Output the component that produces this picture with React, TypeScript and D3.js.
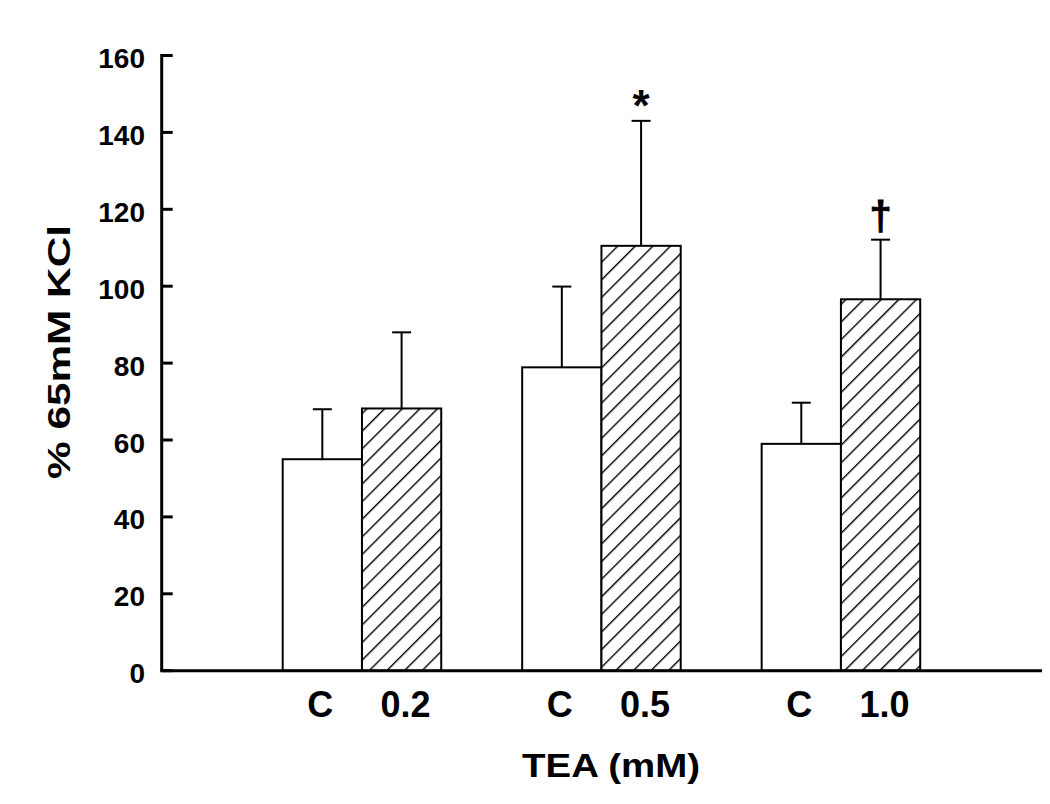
import React from "react";
import * as d3 from "d3";

const groups = ["0.2", "0.5", "1.0"];
const seriesKeys = ["C", "TEA"];
const controlMeans = [55.0, 78.9, 59.0];
const controlErr = [13.0, 21.0, 10.7];
const teaMeans = [68.2, 110.5, 96.6];
const teaErr = [19.8, 32.5, 15.5];
const annotations = ["", "*", "†"];
const yTicks = [0, 20, 40, 60, 80, 100, 120, 140, 160];
const xTitle = "TEA (mM)";
const yTitle = "% 65mM KCl";

const W = 1050;
const H = 804;
const FONT = "'Liberation Sans', Arial, Helvetica, sans-serif";

export default function App() {
  const y = d3.scaleLinear().domain([0, 160]).range([670.7, 55.5]);
  const x0 = d3
    .scaleBand<string>()
    .domain(groups)
    .range([282.7, 920.2])
    .paddingInner(0.338)
    .paddingOuter(0);
  const x1 = d3
    .scaleBand<string>()
    .domain(seriesKeys)
    .range([0, x0.bandwidth()])
    .padding(0);

  const axisX = 161.7;
  const axisY = y(0);
  const bw = x1.bandwidth();
  const capW = 19;

  const bars = groups.flatMap((g, i) => [
    { g, key: "C", mean: controlMeans[i], err: controlErr[i], label: "C", ann: "" },
    { g, key: "TEA", mean: teaMeans[i], err: teaErr[i], label: g, ann: annotations[i] },
  ]);

  return (
    <svg
      width={W}
      height={H}
      style={{ position: "absolute", left: 0, top: 0, background: "#fff" }}
      fontFamily={FONT}
    >
      <defs>
        <pattern
          id="hatch"
          patternUnits="userSpaceOnUse"
          width={12.45}
          height={12.45}
          patternTransform="rotate(45)"
        >
          <rect width={12.45} height={12.45} fill="#fff" />
          <line x1={0} y1={0} x2={0} y2={12.45} stroke="#000" strokeWidth={2.8} />
        </pattern>
      </defs>
      <rect width={W} height={H} fill="#fff" />

      {/* bars */}
      {bars.map((b, i) => {
        const bx = (x0(b.g) as number) + (x1(b.key) as number);
        const cx = bx + bw / 2;
        const top = y(b.mean);
        const et = y(b.mean + b.err);
        return (
          <g key={i}>
            <line x1={cx} x2={cx} y1={top} y2={et} stroke="#000" strokeWidth={2} />
            <line x1={cx - capW / 2} x2={cx + capW / 2} y1={et} y2={et} stroke="#000" strokeWidth={2} />
            <rect
              x={bx}
              y={top}
              width={bw}
              height={axisY - top}
              fill={b.key === "C" ? "#fff" : "url(#hatch)"}
              stroke="#000"
              strokeWidth={2}
            />
            {b.ann === "*" && (
              <text x={cx} y={et} textAnchor="middle" fontWeight="bold" fontSize={44}>
                {b.ann}
              </text>
            )}
            {b.ann === "†" && (
              <text
                x={cx}
                y={et - 10}
                textAnchor="middle"
                fontWeight="bold"
                fontSize={40}
                stroke="#000"
                strokeWidth={0.8}
              >
                {b.ann}
              </text>
            )}
            <text
              x={cx + (b.key === "C" ? -2 : 4)}
              y={716.5}
              textAnchor="middle"
              fontWeight="bold"
              fontSize={36}
            >
              {b.label}
            </text>
          </g>
        );
      })}

      {/* y axis */}
      <line x1={axisX} x2={axisX} y1={y(160) - 1.5} y2={axisY} stroke="#000" strokeWidth={3} />
      {yTicks.map((t) => (
        <g key={t}>
          <line x1={axisX} x2={axisX + 11} y1={y(t)} y2={y(t)} stroke="#000" strokeWidth={3} />
          <text
            x={145}
            y={y(t) + 12.5}
            textAnchor="end"
            fontWeight="bold"
            fontSize={28}
          >
            {t}
          </text>
        </g>
      ))}

      {/* x axis */}
      <line x1={axisX - 1.5} x2={1042} y1={axisY} y2={axisY} stroke="#000" strokeWidth={3} />

      {/* titles */}
      <text
        x={611}
        y={777}
        textAnchor="middle"
        fontWeight="bold"
        fontSize={33}
        textLength={178}
        lengthAdjust="spacingAndGlyphs"
      >
        {xTitle}
      </text>
      <text
        transform="translate(70,352) rotate(-90)"
        textAnchor="middle"
        fontWeight="bold"
        fontSize={31}
        textLength={254}
        lengthAdjust="spacingAndGlyphs"
      >
        {yTitle}
      </text>
    </svg>
  );
}
